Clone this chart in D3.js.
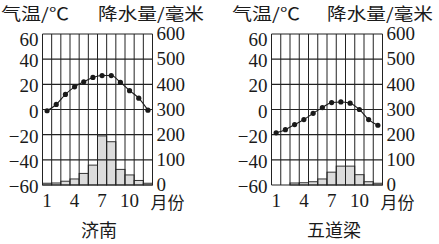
<!DOCTYPE html>
<html>
<head>
<meta charset="utf-8">
<script src="https://cdn.jsdelivr.net/npm/d3@7"></script>
<style>
  body { margin: 0; background: #fff; }
</style>
</head>
<body>
<div id="main"></div>
<script>
// data
const months = [1, 2, 3, 4, 5, 6, 7, 8, 9, 10, 11, 12];
const monthTicks = [1, 4, 7, 10];
const tempTicks = [-60, -40, -20, 0, 20, 40, 60];
const precipTicks = [0, 100, 200, 300, 400, 500, 600];

const jinanTemp = [-1, 4, 12, 18, 22, 25.5, 27, 27, 21.5, 15, 9, -0.5];
const jinanPrecip = [7, 8, 15, 24, 46, 79, 195, 172, 62, 40, 18, 7];

const wudaoliangTemp = [-18.5, -16, -12, -8, -3, 1.5, 5.5, 6, 5, 0, -8, -12.5];
const wudaoliangPrecip = [0, 0, 8, 9, 13, 24, 51, 75, 75, 41, 13, 7];

const stationNames = ['济南', '五道梁'];

// layout
const width = 439;
const height = 244;
const plotTop = 34;
const plotBottom = 185;
const serif = "'Liberation Serif', 'DejaVu Serif', serif";
const cjk = "'Noto Sans CJK SC', sans-serif";
const ink = '#1a1a1a';

const svg = d3.select('#main')
  .append('svg')
  .attr('width', width)
  .attr('height', height);

const stations = [
  { name: stationNames[0], temp: jinanTemp, precip: jinanPrecip, x0: 42.5, x1: 152.5, titleX: 99, leftTitleX: 1, rightTitleX: 98 },
  { name: stationNames[1], temp: wudaoliangTemp, precip: wudaoliangPrecip, x0: 271.5, x1: 382.5, titleX: 334, leftTitleX: 232, rightTitleX: 327 }
];

stations.forEach(drawStation);

function fmtTemp(d) {
  return d < 0 ? '\u2212' + Math.abs(d) : String(d);
}

function drawStation(s) {
  const g = svg.append('g');

  const x = d3.scaleBand()
    .domain(months)
    .range([s.x0, s.x1]);

  const yTemp = d3.scaleLinear()
    .domain([-60, 60])
    .range([plotBottom, plotTop]);

  const yPrecip = d3.scaleLinear()
    .domain([0, 600])
    .range([plotBottom, plotTop]);

  // precipitation bars
  g.append('g').selectAll('rect')
    .data(months.map((m, i) => ({ month: m, value: s.precip[i] })).filter((d) => d.value > 0))
    .enter()
    .append('rect')
    .attr('x', (d) => x(d.month))
    .attr('y', (d) => yPrecip(d.value))
    .attr('width', x.bandwidth())
    .attr('height', (d) => yPrecip(0) - yPrecip(d.value))
    .attr('fill', '#dcdcdc')
    .attr('stroke', '#333')
    .attr('stroke-width', 1);

  // grid: month columns and 20-degree rows
  g.append('g').selectAll('line')
    .data(months.map((m) => x(m)).concat([s.x1]))
    .enter()
    .append('line')
    .attr('x1', (d) => d)
    .attr('x2', (d) => d)
    .attr('y1', plotTop)
    .attr('y2', plotBottom)
    .attr('stroke', '#222')
    .attr('stroke-width', 1);

  g.append('g').selectAll('line')
    .data(tempTicks)
    .enter()
    .append('line')
    .attr('x1', s.x0)
    .attr('x2', s.x1)
    .attr('y1', (d) => yTemp(d))
    .attr('y2', (d) => yTemp(d))
    .attr('stroke', '#222')
    .attr('stroke-width', 1.2);

  // temperature line and dots
  const pts = months.map((m, i) => ({ month: m, value: s.temp[i] }));
  const line = d3.line()
    .x((d) => x(d.month) + x.bandwidth() / 2)
    .y((d) => yTemp(d.value))
    .curve(d3.curveMonotoneX);

  g.append('path')
    .datum(pts)
    .attr('d', line)
    .attr('fill', 'none')
    .attr('stroke', ink)
    .attr('stroke-width', 1.1);

  g.append('g').selectAll('circle')
    .data(pts)
    .enter()
    .append('circle')
    .attr('cx', (d) => x(d.month) + x.bandwidth() / 2)
    .attr('cy', (d) => yTemp(d.value))
    .attr('r', 2.6)
    .attr('fill', ink);

  // axes (labels only)
  const leftAxis = g.append('g')
    .attr('transform', `translate(${s.x0}, 0)`)
    .call(d3.axisLeft(yTemp).tickValues(tempTicks).tickSize(0).tickPadding(4).tickFormat(fmtTemp));
  leftAxis.select('.domain').remove();
  leftAxis.attr('font-family', serif).attr('font-size', 19);
  leftAxis.selectAll('text').attr('fill', ink).attr('dy', (d) => d === 60 ? '0.6em' : '0.4em');

  const rightAxis = g.append('g')
    .attr('transform', `translate(${s.x1}, 0)`)
    .call(d3.axisRight(yPrecip).tickValues(precipTicks).tickSize(0).tickPadding(4));
  rightAxis.select('.domain').remove();
  rightAxis.attr('font-family', serif).attr('font-size', 19);
  rightAxis.selectAll('text').attr('fill', ink).attr('dy', '0.3em');

  const bottomAxis = g.append('g')
    .attr('transform', `translate(0, ${plotBottom})`)
    .call(d3.axisBottom(x).tickValues(monthTicks).tickSize(0).tickPadding(9));
  bottomAxis.select('.domain').remove();
  bottomAxis.attr('font-family', serif).attr('font-size', 19);
  bottomAxis.selectAll('text').attr('fill', ink);

  // texts
  g.append('text')
    .attr('x', s.x1 - 2)
    .attr('y', 209)
    .attr('font-family', cjk)
    .attr('font-size', 17)
    .attr('fill', ink)
    .text('月份');

  g.append('text')
    .attr('x', s.leftTitleX)
    .attr('y', 19.5)
    .attr('font-family', cjk)
    .attr('font-size', 16.5)
    .attr('textLength', 68)
    .attr('lengthAdjust', 'spacingAndGlyphs')
    .attr('fill', ink)
    .text('气温/℃');

  g.append('text')
    .attr('x', s.rightTitleX)
    .attr('y', 19.5)
    .attr('font-family', cjk)
    .attr('font-size', 16.5)
    .attr('textLength', 106)
    .attr('lengthAdjust', 'spacingAndGlyphs')
    .attr('fill', ink)
    .text('降水量/毫米');

  g.append('text')
    .attr('x', s.titleX)
    .attr('y', 237)
    .attr('text-anchor', 'middle')
    .attr('font-family', cjk)
    .attr('font-size', 18)
    .attr('fill', ink)
    .text(s.name);
}
</script>
</body>
</html>
